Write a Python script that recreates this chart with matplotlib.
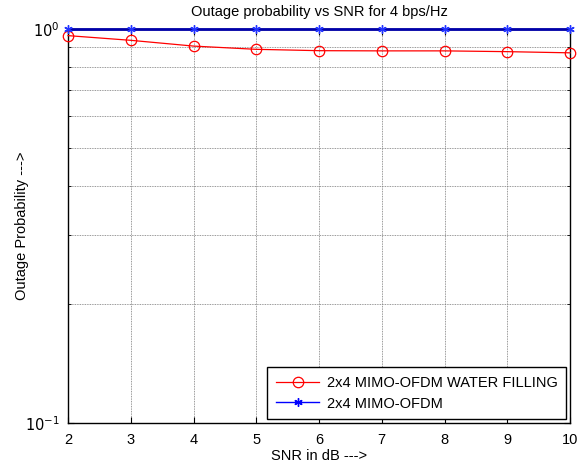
import matplotlib
matplotlib.use("Agg")
import matplotlib.pyplot as plt
from matplotlib.ticker import NullFormatter, FixedLocator

plt.rcParams['font.family'] = ['Liberation Sans', 'DejaVu Sans']

snr = [2, 3, 4, 5, 6, 7, 8, 9, 10]
wf = [0.962, 0.936, 0.905, 0.888, 0.881, 0.880, 0.880, 0.876, 0.870]
plain = [1.0, 1.0, 1.0, 1.0, 1.0, 1.0, 1.0, 1.0, 1.0]
xticks = [2, 3, 4, 5, 6, 7, 8, 9, 10]

FS = 10.5
fig = plt.figure(figsize=(5.87, 4.67), dpi=100)
ax = fig.add_axes([68/587, 1-423/467, (570-68)/587, (423-29)/467])

ax.plot(snr, wf, color='red', lw=0.9, marker='o', ms=7.5, mfc='none', mec='red',
        mew=0.9, label='2x4 MIMO-OFDM WATER FILLING', clip_on=False, zorder=3)
ax.plot(snr, plain, color='#0000aa', lw=2.0, marker=(6, 2, 0), ms=6, mfc='blue', mec='#2233ff',
        mew=1.0, label='2x4 MIMO-OFDM', clip_on=False, zorder=4)

ax.set_yscale('log')
ax.set_ylim(0.1, 1)
ax.set_xlim(2, 10)
ax.set_xticks(xticks)
ax.yaxis.set_major_locator(FixedLocator([0.1, 1]))
ax.yaxis.set_minor_locator(FixedLocator([0.2, 0.3, 0.4, 0.5, 0.6, 0.7, 0.8, 0.9]))
ax.yaxis.set_minor_formatter(NullFormatter())
ax.set_yticklabels(['$10^{-1}$', '$10^{0}$'])

ax.grid(True, which='both', color='#777777', linestyle=(0, (1, 1)), lw=0.6)
ax.tick_params(which='both', direction='in', labelsize=FS, length=4, top=True, right=True)
ax.tick_params(axis='x', pad=7)
ax.tick_params(axis='y', pad=6)
ax.tick_params(which='minor', length=2)
for s in ax.spines.values():
    s.set_linewidth(1.0)

ax.set_title('Outage probability vs SNR for 4 bps/Hz', fontsize=FS, pad=9)
ax.set_xlabel('SNR in dB --->', fontsize=FS, labelpad=2)
ax.set_ylabel('Outage Probability --->', fontsize=FS)
ax.yaxis.set_label_coords((29 - 68) / 502, 0.5)

blue_handle = plt.Line2D([], [], color='blue', lw=1.0, marker=(6, 2, 0), ms=6, mec='blue', mew=1.0)
red_handle = plt.Line2D([], [], color='red', lw=0.9, marker='o', ms=7.5, mfc='none', mec='red', mew=0.9)
leg = ax.legend([red_handle, blue_handle], ['2x4 MIMO-OFDM WATER FILLING', '2x4 MIMO-OFDM'],
                loc='lower right', fontsize=FS, frameon=True, fancybox=False,
                edgecolor='black', framealpha=1, borderaxespad=0.25, handlelength=3.0,
                handletextpad=0.5, labelspacing=0.45, borderpad=0.6)
leg.get_frame().set_linewidth(1.0)

fig.savefig('out.png', dpi=100)
